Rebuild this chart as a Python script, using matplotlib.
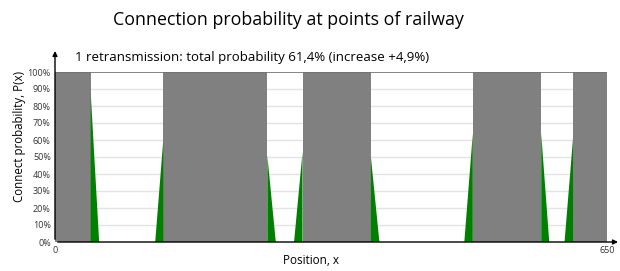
import matplotlib.pyplot as plt

plt.rcParams['font.family'] = ['Open Sans', 'DejaVu Sans']

# covered zones (full connection), in position units
zone_start = [0, 127.5, 291.5, 492, 610]
zone_end = [42, 250, 372, 572.5, 650]

# green spikes of retransmission probability: start, end, peak, peak side
spike_start = [42, 118, 250, 281.5, 372, 482, 572.5, 600]
spike_end = [52, 127.5, 260, 291.5, 382, 492, 582, 610]
spike_peak = [0.88, 0.60, 0.51, 0.53, 0.50, 0.64, 0.64, 0.61]
spike_side = ['left', 'right', 'left', 'right', 'left', 'right', 'left', 'right']

yticks = [0, 0.1, 0.2, 0.3, 0.4, 0.5, 0.6, 0.7, 0.8, 0.9, 1.0]
ylabels = ['0%', '10%', '20%', '30%', '40%', '50%', '60%', '70%', '80%', '90%', '100%']

fig = plt.figure(figsize=(6.2, 2.71), dpi=100)
ax = fig.add_axes([55/620, 1-242/271, 552/620, 170/271])

# grid lines
for v in yticks[1:-1]:
    ax.axhline(v, color='#e3e3e3', lw=1, zorder=0)

for s, e in zip(zone_start, zone_end):
    ax.fill_between([s, e], 0, 1, color='#808080', lw=0, zorder=2)

for s, e, p, side in zip(spike_start, spike_end, spike_peak, spike_side):
    if side == 'left':
        xs, ys = [s, s, e], [0, p, 0]
    else:
        xs, ys = [s, e, e], [0, p, 0]
    ax.fill(xs, ys, color='#008000', lw=0, zorder=3)

ax.axhline(1.0, color='#707070', lw=1.2, zorder=4)

ax.set_xlim(0, 650)
ax.set_ylim(0, 1)
for sp in ax.spines.values():
    sp.set_visible(False)

# axis arrows
ax.annotate('', xy=(1.025, 0), xytext=(0, 0), xycoords='axes fraction',
            arrowprops=dict(arrowstyle='-|>', color='black', lw=1, mutation_scale=7),
            annotation_clip=False, zorder=5)
ax.annotate('', xy=(0, 1.14), xytext=(0, 0), xycoords='axes fraction',
            arrowprops=dict(arrowstyle='-|>', color='black', lw=1, mutation_scale=7),
            annotation_clip=False, zorder=5)

ax.set_yticks(yticks)
ax.set_yticklabels(ylabels, fontsize=6.5, color='#333333')
ax.set_xticks([0, 650])
ax.set_xticklabels(['0', '650'], fontsize=6.5, color='#333333')
ax.tick_params(length=0, pad=3)

ax.set_ylabel('Connect probability, P(x)', fontsize=8.3)
ax.yaxis.set_label_coords(-0.052, 0.62)
ax.set_xlabel('Position, x', fontsize=8.5)
ax.xaxis.set_label_coords(0.464, -0.072)

fig.text(0.466, 0.925, 'Connection probability at points of railway', ha='center',
         va='center', fontsize=12.8)
ax.text(0.036, 1.085, '1 retransmission: total probability 61,4% (increase +4,9%)',
        transform=ax.transAxes, fontsize=9.5, va='center')

fig.savefig('out.png', dpi=100)
